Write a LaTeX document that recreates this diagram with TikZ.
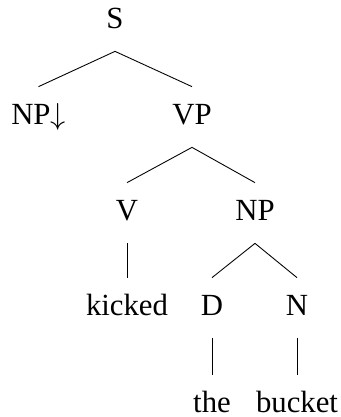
\documentclass[tikz,border=0pt]{standalone}
\usepackage{fontspec}
\setmainfont{Liberation Serif}
\usetikzlibrary{positioning}

\begin{document}
\begin{tikzpicture}[
    cat/.style={anchor=base, inner sep=0pt, text height=0.74cm, text depth=0.46cm, font=\fontsize{17.5}{20}\selectfont},
    branch/.style={draw, line width=0.5pt}
]
\useasboundingbox (0,0) rectangle (6.8,-8.34);

% 根
\node[cat] (s) at (2.30,-0.56) {S};

% 第二层
\node[cat] (np1) at (0.77,-2.48) {NP$\downarrow$};
\node[cat] (vp) at (3.84,-2.48) {VP};

% 第三层
\node[cat] (v) at (2.54,-4.40) {V};
\node[cat] (np2) at (5.10,-4.40) {NP};

% 第四层
\node[cat] (kicked) at (2.54,-6.30) {kicked};
\node[cat] (d) at (4.24,-6.30) {D};
\node[cat] (n) at (5.94,-6.30) {N};

% 词
\node[cat] (the) at (4.24,-8.24) {the};
\node[cat] (bucket) at (5.94,-8.24) {bucket};

% 枝
\draw[branch] (s.south) -- (np1.north);
\draw[branch] (s.south) -- (vp.north);
\draw[branch] (vp.south) -- (v.north);
\draw[branch] (vp.south) -- (np2.north);
\draw[branch] (v.south) -- (kicked.north);
\draw[branch] (np2.south) -- (d.north);
\draw[branch] (np2.south) -- (n.north);
\draw[branch] (d.south) -- (the.north);
\draw[branch] (n.south) -- (bucket.north);

\end{tikzpicture}
\end{document}
